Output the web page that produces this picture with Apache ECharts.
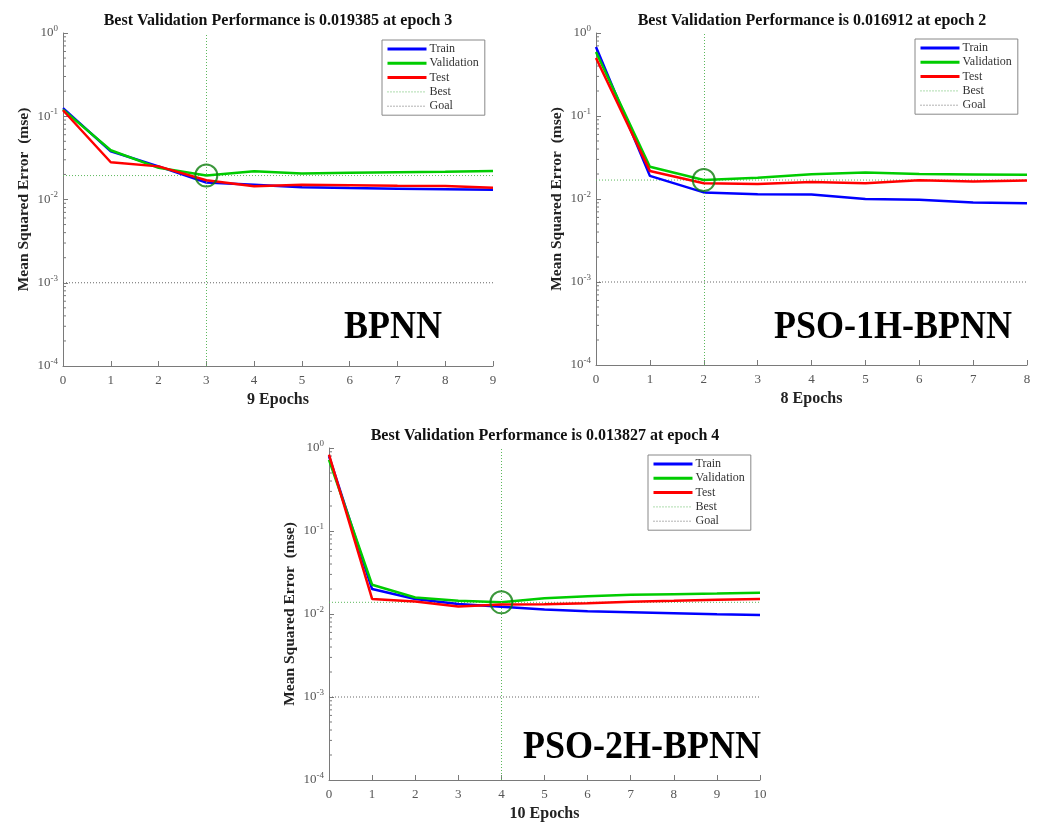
<!DOCTYPE html>
<html>
<head>
<meta charset="utf-8">
<script src="https://cdn.jsdelivr.net/npm/echarts@6/dist/echarts.min.js"></script>
<style>html,body{margin:0;padding:0;background:#fff}#c{width:1038px;height:823px}</style>
</head>
<body>
<div id="c"></div>
<script>
// ---- data ----
const labelsBig = ['BPNN', 'PSO-1H-BPNN', 'PSO-2H-BPNN'];
const epochCounts = [9, 8, 10];
const bestEpochs = [3, 2, 4];
const bestValues = [0.019385, 0.016912, 0.013827];
const goalValue = 0.001;
const legendNames = ['Train', 'Validation', 'Test', 'Best', 'Goal'];

const bpTrain = [0.125, 0.038, 0.025, 0.016, 0.015, 0.014, 0.0137, 0.0135, 0.0133, 0.0131];
const bpVal   = [0.12, 0.039, 0.024, 0.019385, 0.0218, 0.0205, 0.021, 0.0213, 0.0215, 0.022];
const bpTest  = [0.118, 0.028, 0.025, 0.017, 0.0144, 0.015, 0.0148, 0.0146, 0.0145, 0.0138];

const pso1Train = [0.68, 0.019, 0.012, 0.0114, 0.0113, 0.0100, 0.0098, 0.0091, 0.0089];
const pso1Val   = [0.59, 0.0245, 0.016912, 0.018, 0.0199, 0.0208, 0.0200, 0.0198, 0.0196];
const pso1Test  = [0.50, 0.0218, 0.0155, 0.0152, 0.016, 0.0155, 0.0168, 0.0163, 0.0167];

const pso2Train = [0.80, 0.020, 0.0152, 0.0132, 0.0122, 0.0113, 0.0108, 0.0105, 0.0102, 0.0099, 0.0097];
const pso2Val   = [0.72, 0.0225, 0.0158, 0.0144, 0.013827, 0.0155, 0.0164, 0.0170, 0.0173, 0.0176, 0.0180];
const pso2Test  = [0.83, 0.0152, 0.0141, 0.0123, 0.0130, 0.0131, 0.0135, 0.0140, 0.0144, 0.0149, 0.0152];

const yTickExponents = [-4, -3, -2, -1, 0];
const minorMultipliers = [2, 3, 4, 5, 6, 7, 8, 9];

const datasets = [
  { train: bpTrain, val: bpVal, test: bpTest },
  { train: pso1Train, val: pso1Val, test: pso1Test },
  { train: pso2Train, val: pso2Val, test: pso2Test }
];

// ---- layout ----
const grids = [
  { left: 63, top: 33, width: 430, height: 333 },
  { left: 596, top: 33, width: 431, height: 332 },
  { left: 329, top: 448, width: 431, height: 333 }
];
const legendPos = [
  { left: 382, top: 40 },
  { left: 915, top: 39 },
  { left: 648, top: 455 }
];
const titlePos = [[278, 21], [812, 21], [545, 436]];
const bigPos = [[393, 328], [893, 328], [642, 748]];

const SERIF = '"Liberation Serif", "DejaVu Serif", serif';
const AXIS_COLOR = '#7a7a7a';
const LABEL_COLOR = '#555';
const BLUE = '#0000ff', GREEN = '#00cc00', RED = '#ff0000';
const BEST_COLOR = '#5cb85c', GOAL_COLOR = '#666', CIRCLE = '#0b7d0b';
const legendLineWidths = [3, 3, 3, 1, 1];

const toPairs = arr => arr.map((v, i) => [i, v]);

const xAxes = [], yAxes = [], series = [], legends = [], graphics = [];

grids.forEach((g, k) => {
  const N = epochCounts[k];
  xAxes.push({
    gridIndex: k, type: 'value', min: 0, max: N, interval: 1,
    name: N + ' Epochs', nameLocation: 'middle', nameGap: 26,
    nameTextStyle: { fontFamily: SERIF, fontWeight: 'bold', fontSize: 16, color: '#222' },
    axisLine: { show: true, lineStyle: { color: AXIS_COLOR, width: 1 } },
    axisTick: { show: true, inside: true, length: 5, lineStyle: { color: AXIS_COLOR } },
    axisLabel: { fontFamily: SERIF, fontSize: 13, color: LABEL_COLOR, margin: 8 },
    splitLine: { show: false }
  });
  yAxes.push({
    gridIndex: k, type: 'log', logBase: 10, min: 1e-4, max: 1,
    name: 'Mean Squared Error  (mse)', nameLocation: 'middle', nameGap: 31,
    nameTextStyle: { fontFamily: SERIF, fontWeight: 'bold', fontSize: 15.5, color: '#222' },
    axisLine: { show: true, lineStyle: { color: AXIS_COLOR, width: 1 } },
    axisTick: { show: true, inside: true, length: 5, lineStyle: { color: AXIS_COLOR } },
    axisLabel: {
      margin: 5,
      formatter: v => '{b|10}{s|' + Math.round(Math.log10(v)) + '}',
      rich: {
        b: { fontFamily: SERIF, fontSize: 13, color: LABEL_COLOR },
        s: { fontFamily: SERIF, fontSize: 9, color: LABEL_COLOR, padding: [0, 0, 9, 0] }
      }
    },
    splitLine: { show: false }
  });

  const d = datasets[k];
  const common = { xAxisIndex: k, yAxisIndex: k, type: 'line', symbol: 'none', silent: true, animation: false };
  series.push(Object.assign({}, common, { name: 'Train', data: toPairs(d.train), lineStyle: { color: BLUE, width: 2.5 }, itemStyle: { color: BLUE }, z: 3 }));
  series.push(Object.assign({}, common, { name: 'Validation', data: toPairs(d.val), lineStyle: { color: GREEN, width: 2.5 }, itemStyle: { color: GREEN }, z: 4 }));
  series.push(Object.assign({}, common, { name: 'Test', data: toPairs(d.test), lineStyle: { color: RED, width: 2.5 }, itemStyle: { color: RED }, z: 5 }));
  series.push(Object.assign({}, common, {
    name: 'Best', data: [[0, bestValues[k]], [N, bestValues[k]]],
    lineStyle: { color: BEST_COLOR, width: 1, type: [1, 2] }, itemStyle: { color: BEST_COLOR }, z: 2,
    markLine: {
      silent: true, symbol: 'none', label: { show: false },
      lineStyle: { color: BEST_COLOR, width: 1, type: [1, 2] },
      data: [{ xAxis: bestEpochs[k] }]
    }
  }));
  series.push(Object.assign({}, common, {
    name: 'Goal', data: [[0, goalValue], [N, goalValue]],
    lineStyle: { color: GOAL_COLOR, width: 1, type: [1, 2] }, itemStyle: { color: GOAL_COLOR }, z: 2
  }));
  series.push({
    name: 'bestPoint', type: 'scatter', xAxisIndex: k, yAxisIndex: k, silent: true, animation: false,
    data: [[bestEpochs[k], bestValues[k]]], symbol: 'circle', symbolSize: 22,
    itemStyle: { color: 'rgba(0,0,0,0)', borderColor: CIRCLE, borderWidth: 2 }, z: 6
  });
  // minor ticks on log y-axis
  const minorVals = [];
  yTickExponents.slice(0, -1).forEach(e => minorMultipliers.forEach(m => minorVals.push([0, m * Math.pow(10, e)])));
  series.push({
    name: 'minorTicks', type: 'custom', xAxisIndex: k, yAxisIndex: k, silent: true, animation: false, clip: false,
    data: minorVals,
    renderItem: (params, api) => {
      const p = api.coord([api.value(0), api.value(1)]);
      return { type: 'line', shape: { x1: p[0], y1: p[1], x2: p[0] + 3, y2: p[1] }, style: { stroke: AXIS_COLOR, lineWidth: 1 } };
    },
    z: 1
  });

  legends.push({
    left: legendPos[k].left, top: legendPos[k].top, orient: 'vertical',
    data: legendNames.map((n, i) => ({ name: n, lineStyle: { width: legendLineWidths[i] } })),
    itemWidth: 39, itemHeight: 10, itemGap: 2.3,
    padding: [3, 6, 3, 4],
    borderColor: '#888', borderWidth: 1, backgroundColor: '#fff',
    selectedMode: false,
    itemStyle: { opacity: 0 },
    textStyle: { fontFamily: SERIF, fontSize: 12, lineHeight: 12, color: '#333', padding: [0, 0, 0, -2] }
  });

  graphics.push({
    type: 'text', x: titlePos[k][0], y: titlePos[k][1],
    style: {
      text: 'Best Validation Performance is ' + bestValues[k].toFixed(6) + ' at epoch ' + bestEpochs[k],
      font: 'bold 16px ' + SERIF, fill: '#111', textAlign: 'center', textVerticalAlign: 'middle'
    }
  });
  graphics.push({
    type: 'text', x: bigPos[k][0], y: bigPos[k][1], scaleX: 0.9,
    style: {
      text: labelsBig[k], font: 'bold 40px ' + SERIF, fill: '#000',
      textAlign: 'center', textVerticalAlign: 'middle'
    }
  });
});

const chart = echarts.init(document.getElementById('c'), null, { renderer: 'canvas' });
chart.setOption({
  backgroundColor: '#fff',
  animation: false,
  grid: grids,
  xAxis: xAxes,
  yAxis: yAxes,
  legend: legends,
  series: series,
  graphic: graphics
});
</script>
</body>
</html>
